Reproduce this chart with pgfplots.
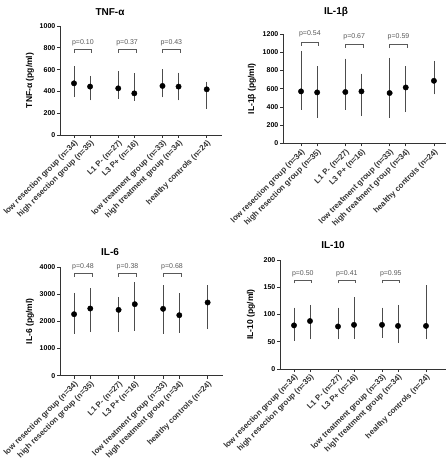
\documentclass[border=0pt]{standalone}
\usepackage{pgfplots}
\pgfplotsset{compat=1.18}
\usepackage{fontspec}
\setmainfont{Liberation Sans}
\tikzset{plab/.style={font=\fontsize{7}{8}\selectfont, text=black!65}}
\pgfplotsset{
 cyto/.style={
   scale only axis, enlargelimits=false, clip=false,
   axis x line*=bottom, axis y line*=left,
   tick align=outside, major tick length=3pt,
   xtick={1,2,3.75,4.75,6.5,7.5,9.25},
   xticklabels={low resection group (n=34), high resection group (n=35), L1 P- (n=27), L3 P+ (n=16), low treatment group (n=33), high treatment group (n=34), healthy controls (n=24)},
   x tick label style={rotate=45, anchor=north east, font=\bfseries\fontsize{7.9}{8}\selectfont, text=black!80, inner sep=1pt},
   y tick label style={font=\bfseries\fontsize{7}{8}\selectfont, inner sep=1.5pt},
   /pgf/number format/assume math mode=true,
   /pgf/number format/1000 sep={},
   axis line style={line width=0.6pt, black!80},
   every tick/.style={line width=0.6pt, black!80},
   every axis y label/.style={at={(axis description cs:0,0.5)}, rotate=90, anchor=center, font=\bfseries\fontsize{8.5}{9}\selectfont},
 },
 dots/.style={only marks, mark=*, mark size=2.7pt, black,
   error bars/.cd, y dir=both, y explicit,
   error bar style={line width=0.7pt, black!70},
   error mark options={mark size=3pt, line width=0.7pt, black!70}},
 brk/.style={black!65, line width=0.6pt, mark=none},
}
\begin{document}
\begin{tikzpicture}
\useasboundingbox (0pt,0pt) rectangle (446pt,465pt);
% TNF-alpha
\node[font=\bfseries\fontsize{10}{11}\selectfont] at (110pt,453pt) {TNF-α};
\begin{axis}[cyto, at={(60pt,330pt)}, anchor=south west, width=162pt, height=109pt,
  xmin=0.13, xmax=10.2, ymin=0, ymax=1000, ytick={0,200,...,1000},
  ylabel={TNF-α (pg/ml)}, every axis y label/.append style={yshift=30pt}]
\addplot[dots] table[x=x,y=y,y error plus=ep,y error minus=em]{
x y ep em
1 474 129 98
2 444 70 98
3.75 428 129 67
4.75 382 159 39
6.5 450 125 77
7.5 444 100 98
9.25 419 43 153
};
\addplot[brk] coordinates {(1,756)(1,786)(2.1,786)(2.1,756)};
\addplot[brk] coordinates {(3.75,756)(3.75,786)(4.85,786)(4.85,756)};
\addplot[brk] coordinates {(6.5,756)(6.5,786)(7.6,786)(7.6,756)};
\node[plab] at (axis cs:1.55,848) {p=0.10};
\node[plab] at (axis cs:4.3,848) {p=0.37};
\node[plab] at (axis cs:7.05,848) {p=0.43};
\end{axis}
% IL-1beta
\node[font=\bfseries\fontsize{10}{11}\selectfont] at (336pt,453pt) {IL-1β};
\begin{axis}[cyto, at={(283pt,321.5pt)}, anchor=south west, width=163pt, height=109.5pt,
  xmin=-0.12, xmax=10.0, ymin=0, ymax=1200, ytick={0,200,...,1200},
  ylabel={IL-1β (pg/ml)}, every axis y label/.append style={yshift=31pt}]
\addplot[dots] table[x=x,y=y,y error plus=ep,y error minus=em]{
x y ep em
1 571 411 171
2 560 254 244
3.75 564 334 164
4.75 571 163 237
6.5 553 352 237
7.5 614 200 236
9.25 687 186 116
};
\addplot[brk] coordinates {(1,1073)(1,1109)(2.1,1109)(2.1,1073)};
\addplot[brk] coordinates {(3.75,1051)(3.75,1087)(4.85,1087)(4.85,1051)};
\addplot[brk] coordinates {(6.5,1051)(6.5,1087)(7.6,1087)(7.6,1051)};
\node[plab] at (axis cs:1.55,1200) {p=0.54};
\node[plab] at (axis cs:4.3,1171) {p=0.67};
\node[plab] at (axis cs:7.05,1171) {p=0.59};
\end{axis}
% IL-6
\node[font=\bfseries\fontsize{10}{11}\selectfont] at (110pt,213pt) {IL-6};
\begin{axis}[cyto, at={(60pt,89.3pt)}, anchor=south west, width=163pt, height=108.7pt,
  xmin=0.13, xmax=10.2, ymin=0, ymax=4000, ytick={0,1000,...,4000},
  ylabel={IL-6 (pg/ml)}, every axis y label/.append style={yshift=30pt}]
\addplot[dots] table[x=x,y=y,y error plus=ep,y error minus=em]{
x y ep em
1 2263 677 603
2 2472 628 762
3.75 2423 345 713
4.75 2632 689 861
6.5 2460 763 812
7.5 2226 689 541
9.25 2694 529 874
};
\addplot[brk] coordinates {(1,3640)(1,3750)(2.1,3750)(2.1,3640)};
\addplot[brk] coordinates {(3.75,3640)(3.75,3750)(4.85,3750)(4.85,3640)};
\addplot[brk] coordinates {(6.5,3640)(6.5,3750)(7.6,3750)(7.6,3640)};
\node[plab] at (axis cs:1.55,3990) {p=0.48};
\node[plab] at (axis cs:4.3,4010) {p=0.38};
\node[plab] at (axis cs:7.05,4010) {p=0.68};
\end{axis}
% IL-10
\node[font=\bfseries\fontsize{10}{11}\selectfont] at (333pt,220pt) {IL-10};
\begin{axis}[cyto, at={(280pt,96pt)}, anchor=south west, width=166pt, height=109pt,
  xmin=0.125, xmax=10.5, ymin=0, ymax=200, ytick={0,50,...,200},
  ylabel={IL-10 (pg/ml)}, every axis y label/.append style={yshift=29pt}]
\addplot[dots] table[x=x,y=y,y error plus=ep,y error minus=em]{
x y ep em
1 80 27 23
2 88 24 28
3.75 78 29 18
4.75 81 45 20
6.5 81 26 18
7.5 79 33 25
9.25 79 69 19
};
\addplot[brk] coordinates {(1,157)(1,162)(2.1,162)(2.1,157)};
\addplot[brk] coordinates {(3.75,157)(3.75,162)(4.85,162)(4.85,157)};
\addplot[brk] coordinates {(6.5,157)(6.5,162)(7.6,162)(7.6,157)};
\node[plab] at (axis cs:1.55,175.6) {p=0.50};
\node[plab] at (axis cs:4.3,175.6) {p=0.41};
\node[plab] at (axis cs:7.05,175.6) {p=0.95};
\end{axis}
\end{tikzpicture}
\end{document}
